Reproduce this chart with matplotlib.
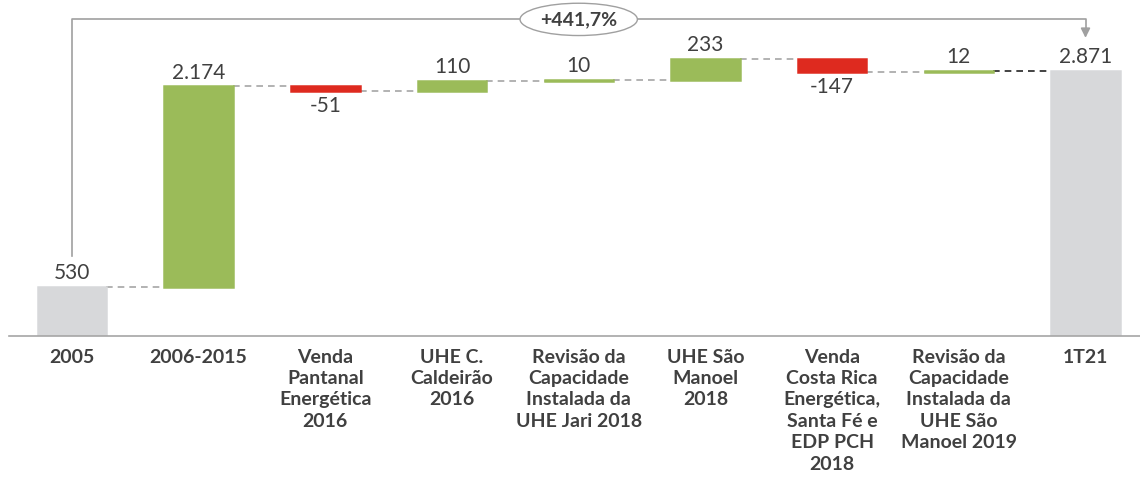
import matplotlib
matplotlib.use("Agg")
import matplotlib.pyplot as plt
import numpy as np

plt.rcParams['font.family'] = ['Lato', 'DejaVu Sans']

# data
categories = ["2005", "2006-2015", "Venda\nPantanal\nEnergética\n2016", "UHE C.\nCaldeirão\n2016",
              "Revisão da\nCapacidade\nInstalada da\nUHE Jari 2018", "UHE São\nManoel\n2018",
              "Venda\nCosta Rica\nEnergética,\nSanta Fé e\nEDP PCH\n2018",
              "Revisão da\nCapacidade\nInstalada da\nUHE São\nManoel 2019", "1T21"]
start_value = 530
deltas = [2174, -51, 110, 10, 233, -147, 12]
end_value = 2871
growth_label = "+441,7%"

GREEN = "#9BBB59"
RED = "#DE2A1F"
GREY = "#D7D8DA"
TXT = "#404040"

# compute waterfall bottoms/heights
n = len(categories)
bottoms = [0]
heights = [start_value]
colors = [GREY]
level = start_value
for d in deltas:
    if d >= 0:
        bottoms.append(level)
        heights.append(d)
        colors.append(GREEN)
    else:
        bottoms.append(level + d)
        heights.append(-d)
        colors.append(RED)
    level += d
bottoms.append(0)
heights.append(end_value)
colors.append(GREY)

fig = plt.figure(figsize=(11.4, 4.79), dpi=100)
ax = fig.add_axes([0.0075, 0.2985, 0.9925, 0.7015])
x = np.arange(n)
w = 0.54
ax.bar(x, heights, bottom=bottoms, width=w, color=colors, edgecolor=colors, linewidth=1.8, zorder=2)

# connectors
level = start_value
levels = [start_value]
for d in deltas:
    level += d
    levels.append(level)
for i in range(n - 1):
    c = "#222222" if i == n - 2 else "#A6A6A6"
    ax.plot([i + w / 2, i + 1 - w / 2], [levels[i], levels[i]], color=c,
            linestyle=(0, (4, 3)), linewidth=1.2, zorder=1)

# value labels
fs_val = 15
ax.text(0, start_value + 40, f"{start_value}", ha='center', va='bottom', fontsize=fs_val, color=TXT)
for i, d in enumerate(deltas, start=1):
    if d >= 0:
        ax.text(i, bottoms[i] + heights[i] + 40, f"{d:,}".replace(",", "."), ha='center', va='bottom',
                fontsize=fs_val, color=TXT)
    else:
        ax.text(i, bottoms[i] - 50, f"{d}", ha='center', va='top', fontsize=fs_val, color=TXT)
ax.text(n - 1, end_value + 40, f"{end_value:,}".replace(",", "."), ha='center', va='bottom',
        fontsize=fs_val, color=TXT)

# growth bracket
ytop = 3430
ax.plot([0, 0, n - 1, n - 1], [start_value + 340, ytop, ytop, 3320], color="#A0A0A0", lw=1.2, zorder=1)
ax.annotate("", xy=(n - 1, 3200), xytext=(n - 1, 3330),
            arrowprops=dict(arrowstyle="-|>", color="#A0A0A0", lw=1.2, mutation_scale=14))
ax.text((n - 1) / 2, ytop, growth_label, ha='center', va='center', fontsize=14, fontweight='bold',
        color=TXT, bbox=dict(boxstyle="ellipse,pad=0.15", fc='white', ec="#A0A0A0", lw=1.0), zorder=3)

ax.set_xlim(-0.5, 8.43)
ax.set_ylim(0, 3640)
ax.set_xticks(x)
ax.set_xticklabels(categories, fontsize=14, fontweight='bold', color=TXT, linespacing=1.32, va='top')
ax.tick_params(axis='x', length=0, pad=9)
ax.set_yticks([])
for s in ['top', 'right', 'left']:
    ax.spines[s].set_visible(False)
ax.spines['bottom'].set_color("#A6A6A6")
ax.spines['bottom'].set_linewidth(1.2)

fig.savefig("out.png", dpi=100)
